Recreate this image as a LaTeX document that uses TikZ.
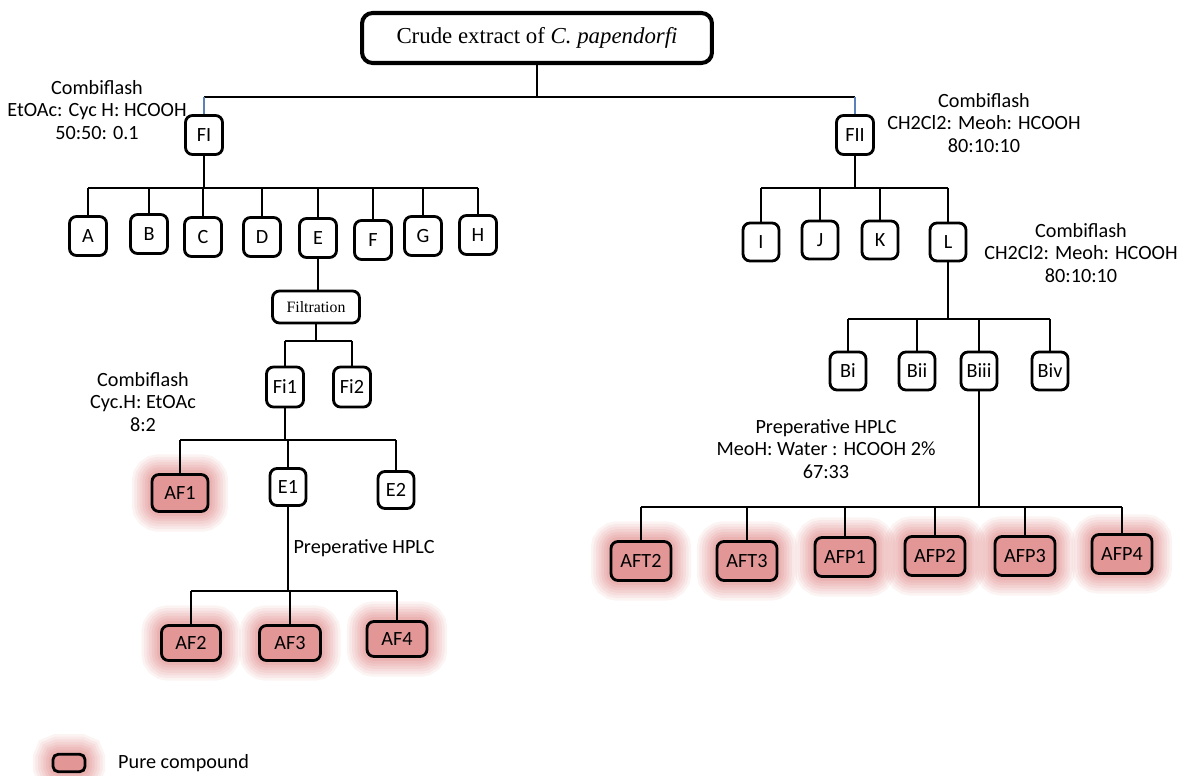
\documentclass[tikz,border=0pt]{standalone}
\usepackage{fontspec}
\setmainfont{Carlito}
\newfontfamily\titlefont{Liberation Serif}
\definecolor{glowred}{RGB}{210,85,85}
\definecolor{purefill}{RGB}{226,150,150}
\definecolor{stemblue}{RGB}{90,130,185}
\tikzset{
	box/.style={draw, line width=1.6pt, rounded corners=4pt, minimum width=0.74cm, minimum height=0.78cm, inner sep=0pt, font=\fontsize{11.5}{13}\selectfont},
	pure/.style={box, fill=purefill, minimum width=1.2cm, minimum height=0.72cm,
		preaction={draw=glowred, draw opacity=0.07, line width=23pt},
		preaction={draw=glowred, draw opacity=0.07, line width=20pt},
		preaction={draw=glowred, draw opacity=0.08, line width=17pt},
		preaction={draw=glowred, draw opacity=0.08, line width=14pt},
		preaction={draw=glowred, draw opacity=0.09, line width=11pt},
		preaction={draw=glowred, draw opacity=0.09, line width=8pt},
		preaction={draw=glowred, draw opacity=0.1, line width=5pt}},
	note/.style={align=center, font=\fontsize{11.5}{12.8}\selectfont},
	link/.style={line width=1pt},
}
\begin{document}
\begin{tikzpicture}[x=0.02cm,y=-0.02cm]
			\useasboundingbox (0,0) rectangle (1179,776);
			% crude extract
			\node[box, minimum width=7cm, minimum height=1cm, line width=2.3pt, rounded corners=6pt, font=\titlefont\fontsize{13}{15}\selectfont] (crude) at (537,38) {Crude extract of \textit{C. papendorfi}};
			\node[box] (FI) at (204,135) {FI};
			\node[box] (FII) at (855,135) {FII};
			\node[note] (cf1) at (97,110) {Combiflash\\EtOAc: Cyc H: HCOOH\\50:50: 0.1};
			\node[note] (cf2) at (984,123) {Combiflash\\CH2Cl2: Meoh: HCOOH\\80:10:10};
			\coordinate (top) at (0,97);
			\draw[link] (crude.south) -- (crude.south |- top);
			\draw[link] (FI.north |- top) -- (FII.north |- top);
			\draw[link, stemblue] (FI.north |- top) -- (FI.north);
			\draw[link, stemblue] (FII.north |- top) -- (FII.north);
			% left branch
			\node[box] (A) at (88,236) {A};
			\node[box] (B) at (149,234) {B};
			\node[box] (C) at (203,237) {C};
			\node[box] (D) at (262,237) {D};
			\node[box] (E) at (318,238) {E};
			\node[box] (F) at (373,240) {F};
			\node[box] (G) at (423,236) {G};
			\node[box] (H) at (478,235) {H};
			\coordinate (busA) at (0,188);
			\draw[link] (FI.south) -- (FI.south |- busA);
			\draw[link] (A.north |- busA) -- (H.north |- busA);
			\foreach \n in {A,B,C,D,E,F,G,H}
				\draw[link] (\n.north) -- (\n.north |- busA);
			\node[box, minimum width=1.74cm, minimum height=0.64cm, font=\titlefont\fontsize{9}{11}\selectfont] (filt) at (316,307) {Filtration};
			\draw[link] (E.south) -- (E.south |- filt.north);
			\node[box, minimum height=0.8cm] (Fi1) at (285,387) {Fi1};
			\node[box, minimum height=0.8cm] (Fi2) at (352,387) {Fi2};
			\coordinate (busF) at (0,341);
			\draw[link] (filt.south) -- (filt.south |- busF);
			\draw[link] (Fi1.north |- busF) -- (Fi2.north |- busF);
			\foreach \n in {Fi1,Fi2}
				\draw[link] (\n.north) -- (\n.north |- busF);
			\node[note] (cf3) at (143,402) {Combiflash\\Cyc.H: EtOAc\\8:2};
			\node[pure, minimum width=1.12cm, minimum height=0.74cm] (AF1) at (180,493) {AF1};
			\node[box, minimum width=0.72cm, minimum height=0.74cm] (E1) at (288,487) {E1};
			\node[box, minimum width=0.72cm, minimum height=0.74cm] (E2) at (396,490) {E2};
			\coordinate (busE) at (0,440);
			\draw[link] (Fi1.south) -- (Fi1.south |- busE);
			\draw[link] (AF1.north |- busE) -- (E2.north |- busE);
			\foreach \n in {AF1,E1,E2}
				\draw[link] (\n.north) -- (\n.north |- busE);
			\node[note] (hplc1) at (364,548) {Preperative HPLC};
			\node[pure, minimum width=1.18cm, minimum height=0.7cm] (AF2) at (191,643) {AF2};
			\node[pure, minimum width=1.22cm, minimum height=0.7cm] (AF3) at (290,643) {AF3};
			\node[pure, minimum width=1.2cm, minimum height=0.7cm] (AF4) at (397,639) {AF4};
			\coordinate (busE1) at (0,591);
			\draw[link] (E1.south) -- (E1.south |- busE1);
			\draw[link] (AF2.north |- busE1) -- (AF4.north |- busE1);
			\foreach \n in {AF2,AF3,AF4}
				\draw[link] (\n.north) -- (\n.north |- busE1);
			% right branch
			\node[box, minimum width=0.72cm, minimum height=0.76cm] (I) at (761,242) {I};
			\node[box, minimum width=0.72cm, minimum height=0.76cm] (J) at (820,240) {J};
			\node[box, minimum width=0.72cm, minimum height=0.76cm] (K) at (880,240) {K};
			\node[box, minimum width=0.72cm, minimum height=0.76cm] (L) at (948,242) {L};
			\coordinate (busI) at (0,188);
			\draw[link] (FII.south) -- (FII.south |- busI);
			\draw[link] (I.north |- busI) -- (L.north |- busI);
			\foreach \n in {I,J,K,L}
				\draw[link] (\n.north) -- (\n.north |- busI);
			\node[note] (cf4) at (1081,253) {Combiflash\\CH2Cl2: Meoh: HCOOH\\80:10:10};
			\node[box, minimum width=0.72cm, minimum height=0.76cm] (Bi) at (848,371) {Bi};
			\node[box, minimum width=0.72cm, minimum height=0.76cm] (Bii) at (917,371) {Bii};
			\node[box, minimum width=0.72cm, minimum height=0.76cm] (Biii) at (979,371) {Biii};
			\node[box, minimum width=0.72cm, minimum height=0.76cm] (Biv) at (1050,371) {Biv};
			\coordinate (busL) at (0,319);
			\draw[link] (L.south) -- (L.south |- busL);
			\draw[link] (Bi.north |- busL) -- (Biv.north |- busL);
			\foreach \n in {Bi,Bii,Biii,Biv}
				\draw[link] (\n.north) -- (\n.north |- busL);
			\node[note] (hplc2) at (826,449) {Preperative HPLC\\MeoH: Water : HCOOH 2\%\\67:33};
			\node[pure, minimum height=0.78cm] (AFT2) at (641,561) {AFT2};
			\node[pure, minimum height=0.78cm] (AFT3) at (747,561) {AFT3};
			\node[pure, minimum height=0.78cm] (AFP1) at (845,557) {AFP1};
			\node[pure, minimum height=0.78cm] (AFP2) at (935,556) {AFP2};
			\node[pure, minimum height=0.78cm] (AFP3) at (1025,556) {AFP3};
			\node[pure, minimum height=0.78cm] (AFP4) at (1122,554) {AFP4};
			\coordinate (busB) at (0,507);
			\draw[link] (Biii.south) -- (Biii.south |- busB);
			\draw[link] (AFT2.north |- busB) -- (AFP4.north |- busB);
			\foreach \n in {AFT2,AFT3,AFP1,AFP2,AFP3,AFP4}
				\draw[link] (\n.north) -- (\n.north |- busB);
			% key
			\node[pure, minimum width=0.64cm, minimum height=0.35cm, rounded corners=3pt] (key) at (69,763) {};
			\node[note, anchor=west] (keytext) at (112,763) {Pure compound};
			\end{tikzpicture}
\end{document}
